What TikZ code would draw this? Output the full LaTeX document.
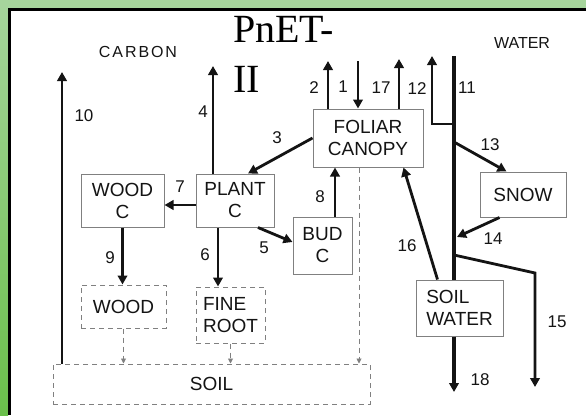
\documentclass[tikz,border=0pt]{standalone}
\usepackage{fontspec}
\setmainfont{Liberation Serif}
\newfontfamily\lab{Liberation Sans}
\newfontfamily\labsp[LetterSpace=12]{Liberation Sans}
\usetikzlibrary{arrows.meta,calc}
\definecolor{gtop}{HTML}{A6D59C}
\definecolor{gbot}{HTML}{6ABF4B}
\definecolor{boxc}{HTML}{808080}
\definecolor{ink}{HTML}{141414}
\begin{document}
\begin{tikzpicture}[x=1pt,y=-1pt,
  box/.style={draw=boxc,line width=1pt,inner sep=0pt,font=\lab\fontsize{19}{22}\selectfont,text=ink,align=center},
  dbox/.style={box,dash pattern=on 5pt off 4pt},
  arr/.style={line width=2.8pt,draw=ink,-{Triangle[length=9pt,width=9.5pt]}},
  ln/.style={line width=3.1pt,draw=ink},
  darr/.style={line width=0.9pt,draw=boxc,dash pattern=on 5pt off 4pt,-{Triangle[length=5pt,width=5pt]}},
  num/.style={font=\lab\fontsize{17}{17}\selectfont,text=ink,inner sep=0pt},
  hdr/.style={font=\lab\fontsize{16}{16}\selectfont,text=ink,inner sep=0pt},
  ttl/.style={font=\fontsize{40}{50}\selectfont,text=black,anchor=base west,inner sep=0pt}
]
\useasboundingbox (0,0) rectangle (586,415);
\fill[white] (0,0) rectangle (586,415);
\shade[top color=gtop,bottom color=gbot] (0,0) rectangle (8,415);
\fill[gtop] (0,0) rectangle (586,8);
\fill[black] (8,8) rectangle (11,415);
\fill[black] (8,8) rectangle (586,11);

% boxes
\node[box,minimum width=110pt,minimum height=58pt] (canopy) at (368,138) {FOLIAR\\CANOPY};
\node[box,minimum width=78pt,minimum height=53pt] (plant) at (235,200.5) {PLANT\\C};
\node[box,minimum width=59pt,minimum height=57pt] (bud) at (322.5,245.5) {BUD\\C};
\node[box,minimum width=83pt,minimum height=53pt] (woodc) at (122.5,200.5) {WOOD\\C};
\node[box,minimum width=86pt,minimum height=45pt] (snow) at (523,194.5) {SNOW};
\node[box,align=left,minimum width=87pt,minimum height=56pt] (soilw) at (459.5,308) {SOIL\\WATER};
\node[dbox,minimum width=85pt,minimum height=43pt] (wood) at (123.5,306.5) {WOOD};
\node[dbox,align=left,minimum width=69pt,minimum height=56pt] (fineroot) at (230.5,315) {FINE\\ROOT};
\node[dbox,minimum width=317pt,minimum height=40pt] (soil) at (211.5,384) {SOIL};

% headers and title
\node[hdr,font=\labsp\fontsize{16}{16}\selectfont] (carbon) at (138,52) {CARBON};
\node[hdr] (water) at (522,43) {WATER};
\node[ttl] (title1) at (233,42) {PnET-};
\node[ttl] (title2) at (233,92) {II};

% free ends
\coordinate (t1) at (358,61);
\coordinate (t2) at (328,61);
\coordinate (t17) at (399,59);
\coordinate (t12) at (432,56);
\coordinate (t11) at (454,56);
\coordinate (j12) at (454,124);
\coordinate (j13) at (454,142);
\coordinate (j14) at (457,237);
\coordinate (j15) at (454,255);
\coordinate (k15) at (535,273);
\coordinate (t15) at (535,387);
\coordinate (t18) at (454,392);
\coordinate (t4) at (213,66);
\coordinate (t10) at (62,72);
\coordinate (dc) at (359,0);
\coordinate (b8) at ([xshift=12.5pt]bud.north);
\coordinate (p7) at ([yshift=-4.5pt]plant.west);
\coordinate (p6) at ([xshift=-17pt]plant.south);
\coordinate (p4) at ([xshift=-22pt]plant.north);

% water connectors
\draw[arr] (t1) -- (t1 |- canopy.north);
\draw[arr] (t2 |- canopy.north) -- (t2);
\draw[arr] (t17 |- canopy.north) -- (t17);
\draw[arr] (j12) -| (t12);
\draw[ln] (t11) -- (t11 |- soilw.north);
\draw[arr] (j13) -- ([xshift=27pt]snow.north west);
\draw[arr] ([xshift=20pt]snow.south west) -- (j14);
\draw[arr] (j15) -- (k15) -- (t15);
\draw[arr,line width=3.8pt] (t11 |- soilw.south) -- (t18);
\draw[arr] ([xshift=22pt]soilw.north west) -- ([xshift=-20pt]canopy.south east);

% carbon connectors
\draw[arr] (b8) -- (b8 |- canopy.south);
\draw[arr] (canopy.west) -- ([xshift=13pt]plant.north);
\draw[arr] (p7) -- (p7 -| woodc.east);
\draw[arr] ([xshift=23pt]plant.south) -- ([yshift=3.5pt]bud.west);
\draw[arr] (p6) -- (p6 |- fineroot.north);
\draw[arr] (woodc.south) -- (woodc.south |- wood.north);
\draw[arr] (p4) -- (t4);
\draw[arr] (t10 |- soil.north) -- (t10);

% litter (dashed)
\draw[darr] (wood.south) -- (wood.south |- soil.north);
\draw[darr] (fineroot.south) -- (fineroot.south |- soil.north);
\draw[darr] (canopy.south -| dc) -- (dc |- soil.north);

% flow numbers
\node[num] (l1) at (343,87) {1};
\node[num] (l2) at (314,88) {2};
\node[num] (l3) at (277,138) {3};
\node[num] (l4) at (203,112) {4};
\node[num] (l5) at (264,248) {5};
\node[num] (l6) at (205,255) {6};
\node[num] (l7) at (180,187) {7};
\node[num] (l8) at (320,197) {8};
\node[num] (l9) at (110,258) {9};
\node[num] (l10) at (84,116) {10};
\node[num] (l11) at (467,88) {11};
\node[num] (l12) at (417,89) {12};
\node[num] (l13) at (490,145) {13};
\node[num] (l14) at (493,239) {14};
\node[num] (l15) at (557,322) {15};
\node[num] (l16) at (407,246) {16};
\node[num] (l17) at (381,88) {17};
\node[num] (l18) at (480,380) {18};
\end{tikzpicture}
\end{document}
